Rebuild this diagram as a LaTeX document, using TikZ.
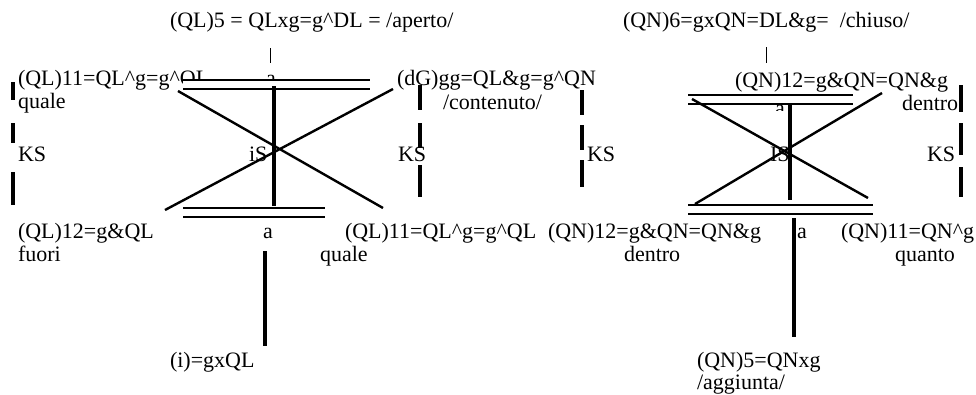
\documentclass[tikz,border=0pt]{standalone}
\usepackage{fontspec}
\setmainfont{Liberation Serif}
\begin{document}
\begin{tikzpicture}[x=1pt,y=-1pt,
  txt/.style={anchor=base west,inner sep=0pt,outer sep=0pt,font=\fontsize{22}{23}\selectfont},
  thin/.style={line width=1.2pt},
  cross/.style={line width=2.4pt},
  stem/.style={line width=3.4pt},
  dashbar/.style={line width=3.4pt},
  tick/.style={line width=0.8pt}]
\useasboundingbox (0,0) rectangle (976,394);
% ---------------- left group ----------------
\node[txt] (tl) at (170,27) {(QL)5 = QLxg=g\^{}DL = /aperto/};
\coordinate (tlA) at (270,48); \coordinate (tlB) at (270,63);
\draw[tick] (tlA) -- (tlB);
\node[txt] (l11) at (18,85) {(QL)11=QL\^{}g=g\^{}QL};
\node[txt] (lqu) at (18,108) {quale};
\node[txt] (la1) at (266,85) {a};
\node[txt] (dg) at (397,85) {(dG)gg=QL\&g=g\^{}QN};
\node[txt] (cont) at (443,109) {/contenuto/};
\node[txt] (lks1) at (18,161) {KS};
\node[txt] (lis) at (249,161) {iS};
\node[txt] (lks2) at (398,161) {KS};
\node[txt] (l12) at (18,238) {(QL)12=g\&QL};
\node[txt] (lfu) at (18,261) {fuori};
\node[txt] (la2) at (263,238) {a};
\node[txt] (l11b) at (345,238) {(QL)11=QL\^{}g=g\^{}QL};
\node[txt] (lqu2) at (320,261) {quale};
\node[txt] (li) at (170,367) {(i)=gxQL};
% white band of upper double line
\fill[white] (183,80) rectangle (370,89);
\coordinate (ld1a) at (183,80); \coordinate (ld1b) at (370,80);
\coordinate (ld2a) at (183,89); \coordinate (ld2b) at (370,89);
\draw[thin] (ld1a) -- (ld1b) (ld2a) -- (ld2b);
\coordinate (lb1a) at (183,208); \coordinate (lb1b) at (325,208);
\coordinate (lb2a) at (183,217); \coordinate (lb2b) at (325,217);
\draw[thin] (lb1a) -- (lb1b) (lb2a) -- (lb2b);
\coordinate (lx1a) at (178,91); \coordinate (lx1b) at (383,208);
\coordinate (lx2a) at (393,89); \coordinate (lx2b) at (165,210);
\draw[cross] (lx1a) -- (lx1b) (lx2a) -- (lx2b);
\coordinate (lsA) at (274,86); \coordinate (lsB) at (274,206);
\draw[stem] (lsA) -- (lsB);
\coordinate (lsC) at (265,251); \coordinate (lsD) at (265,346);
\draw[stem] (lsC) -- (lsD);
\draw[dashbar] (13,82) -- (13,100) (13,123) -- (13,143) (13,172) -- (13,205);
\draw[dashbar] (420,85) -- (420,110) (420,123) -- (420,148) (420,165) -- (420,197);
% ---------------- right group ----------------
\node[txt] (tr) at (623,27) {(QN)6=gxQN=DL\&g=\ \ /chiuso/};
\coordinate (trA) at (766,47); \coordinate (trB) at (766,63);
\draw[tick] (trA) -- (trB);
\node[txt] (r12) at (735,87) {(QN)12=g\&QN=QN\&g};
\node[txt] (rde) at (902,110) {dentro};
\begin{scope}
\clip (770,100) rectangle (790,110);
\node[txt] (ra1) at (775,115) {a};
\end{scope}
\node[txt] (rks1) at (587,161) {KS};
\node[txt] (ris) at (770,161) {IS};
\node[txt] (rks2) at (927,161) {KS};
\node[txt] (r12b) at (548,238) {(QN)12=g\&QN=QN\&g};
\node[txt] (rde2) at (624,261) {dentro};
\node[txt] (ra2) at (797,238) {a};
\node[txt] (r11) at (841,238) {(QN)11=QN\^{}g};
\node[txt] (rqu) at (895,261) {quanto};
\node[txt] (r5) at (697,367) {(QN)5=QNxg};
\node[txt] (rag) at (697,389) {/aggiunta/};
\coordinate (rd1a) at (688,95); \coordinate (rd1b) at (853,95);
\coordinate (rd2a) at (688,104); \coordinate (rd2b) at (853,104);
\draw[thin] (rd1a) -- (rd1b) (rd2a) -- (rd2b);
\coordinate (rb1a) at (688,205); \coordinate (rb1b) at (873,205);
\coordinate (rb2a) at (688,214); \coordinate (rb2b) at (873,214);
\draw[thin] (rb1a) -- (rb1b) (rb2a) -- (rb2b);
\coordinate (rx1a) at (692,99); \coordinate (rx1b) at (868,198);
\coordinate (rx2a) at (882,93); \coordinate (rx2b) at (695,204);
\draw[cross] (rx1a) -- (rx1b) (rx2a) -- (rx2b);
\coordinate (rsA) at (790,103); \coordinate (rsB) at (790,200);
\draw[stem] (rsA) -- (rsB);
\coordinate (rsC) at (794,218); \coordinate (rsD) at (794,337);
\draw[stem] (rsC) -- (rsD);
\draw[dashbar] (582,90) -- (582,115) (582,125) -- (582,150) (582,160) -- (582,187);
\draw[dashbar] (961,85) -- (961,112) (961,123) -- (961,155) (961,167) -- (961,197);
\end{tikzpicture}
\end{document}
